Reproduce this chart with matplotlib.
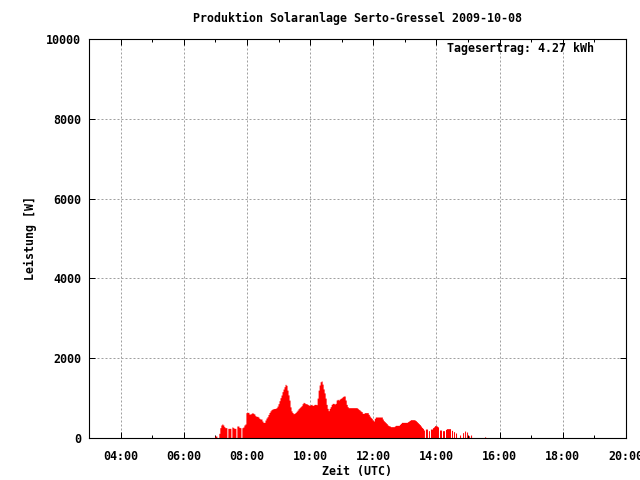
import matplotlib
matplotlib.use("Agg")
import matplotlib.pyplot as plt
import numpy as np

start_time = "06:59"
step_min = 1.905
leistung = [
    50, 50, 0, 0, 117, 259, 326, 351, 326, 284, 259, 259, 0, 242, 242, 242, 0,
    276, 259, 242, 242, 0, 301, 301, 267, 259, 0, 259, 276, 326, 351,
    635, 643, 643, 601, 601, 618, 635, 618, 601, 560, 543, 543, 526, 493, 476,
    476, 426, 392, 392, 451, 500, 534, 590, 640, 680, 710, 726, 735, 740, 743,
    760, 800, 860, 935, 1010, 1077, 1161, 1227, 1286, 1344, 1320, 1200, 1080,
    950, 780, 680, 640, 610, 620, 640, 670, 700, 735, 760, 785, 810, 860, 893,
    880, 860, 860, 843, 830, 815, 835, 843, 815, 827, 843, 843, 835, 1000,
    1200, 1328, 1410, 1428, 1350, 1230, 1130, 1000, 843, 743, 685, 743, 785,
    843, 868, 868, 852, 868, 952, 969, 952, 977, 994, 1010, 1035, 1052, 1052,
    952, 843, 785, 760, 760, 760, 760, 760, 760, 760, 760, 760, 743, 718, 701,
    676, 660, 618, 618, 635, 635, 635, 635, 593, 551, 518, 493, 451, 426, 493,
    526, 526, 526, 526, 526, 526, 526, 476, 434, 409, 384, 359, 326, 309, 301,
    284, 284, 284, 284, 301, 317, 317, 317, 317, 342, 367, 392, 392, 392, 392,
    392, 392, 409, 426, 443, 459, 459, 459, 459, 451, 434, 409, 384, 359, 334,
    301, 267, 242, 200, 0, 225, 225, 0, 184, 0, 225, 225, 259, 280, 309, 309,
    300, 280, 0, 200, 200, 0, 184, 184, 0, 217, 234, 234, 234, 234, 0, 192, 0,
    159, 0, 125, 0, 0, 0, 75, 0, 0, 134, 0, 175, 0, 150, 0, 58, 0, 75,
    0, 0, 0, 0, 0, 0, 0, 0, 0, 0, 0, 0, 0, 30, 0,
]

x_ticks = [4, 6, 8, 10, 12, 14, 16, 18, 20]
x_labels = ["04:00", "06:00", "08:00", "10:00", "12:00", "14:00", "16:00", "18:00", "20:00"]
y_ticks = [0, 2000, 4000, 6000, 8000, 10000]
titel = "Produktion Solaranlage Serto-Gressel 2009-10-08"
ertrag = "Tagesertrag: 4.27 kWh"

h0, m0 = start_time.split(":")
t0 = int(h0) + int(m0) / 60.0
stunden = t0 + np.arange(len(leistung)) * step_min / 60.0
leistung = np.array(leistung, dtype=float)

font = {"family": "DejaVu Sans Mono", "weight": "bold", "size": 8.4}
plt.rcParams["font.family"] = "DejaVu Sans Mono"
plt.rcParams["font.weight"] = "bold"
plt.rcParams["font.size"] = 8.4

fig = plt.figure(figsize=(6.4, 4.8), dpi=100)
ax = fig.add_axes([89 / 640, 1 - 438 / 480, 537 / 640, 399 / 480])

ax.fill_between(stunden, 0, leistung, step="post", color="#ff0000", linewidth=0)

ax.set_xlim(3, 20)
ax.set_ylim(0, 10000)
ax.set_xticks(x_ticks)
ax.set_xticklabels(x_labels)
ax.set_xticks(np.arange(3, 21, 1), minor=True)
ax.set_yticks(y_ticks)
ax.set_yticklabels([str(v) for v in y_ticks])

ax.tick_params(which="both", direction="in", top=True, right=True, color="black", width=0.72)
ax.tick_params(which="major", length=4.5)
ax.tick_params(which="minor", length=2.2)
ax.tick_params(axis="x", which="major", pad=9)
ax.tick_params(axis="y", which="major", pad=5.5)
for s in ax.spines.values():
    s.set_linewidth(0.8)
    s.set_color("black")
    s.set_zorder(5)

ax.set_axisbelow(True)
ax.grid(True, which="major", color="#a0a0a0", linewidth=0.72, linestyle=(0, (2, 2)))

ax.set_title(titel, fontdict=font, pad=12)
ax.set_xlabel("Zeit (UTC)", fontdict=font, labelpad=1)
ax.set_ylabel("Leistung [W]", fontdict=font, labelpad=7)
ax.text(0.667, 0.977, ertrag, transform=ax.transAxes, ha="left", va="center", fontdict=font)

fig.savefig("out.png", dpi=100)
